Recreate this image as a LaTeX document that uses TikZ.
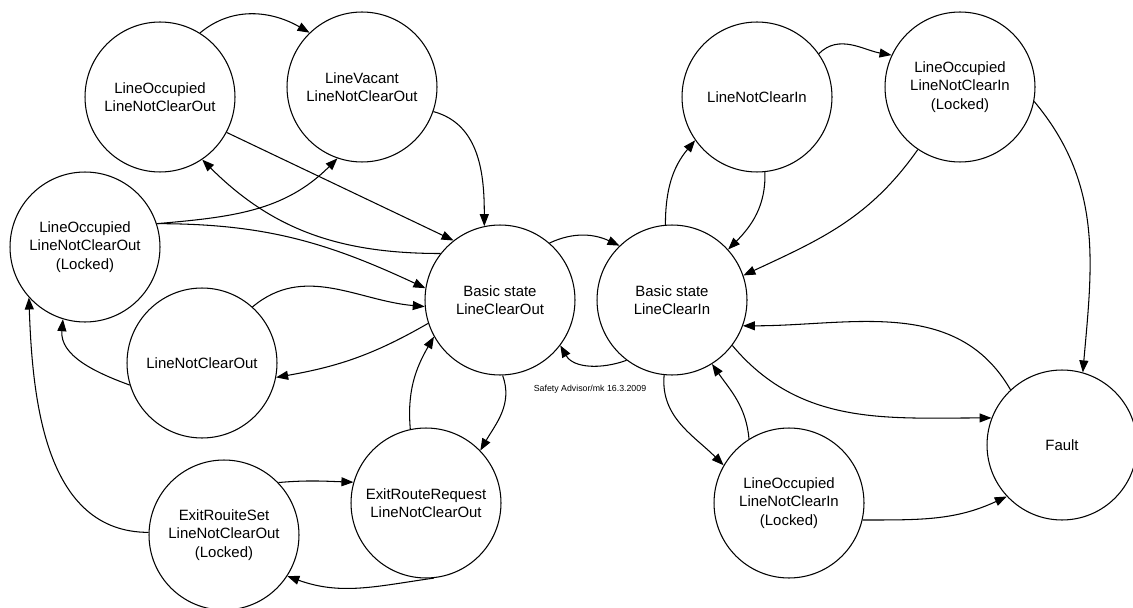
\documentclass[tikz,border=0pt]{standalone}
\usepackage{fontspec}
\setmainfont{Liberation Sans}
\usepackage{tikz}
\usetikzlibrary{arrows, arrows.meta}
\tikzset{state/.style = {draw, circle, minimum size=3cm, inner sep=0pt, align=center, font=\fontsize{8.5}{10.4}\selectfont}}
\tikzset{tr/.style = {-{Triangle[length=2.4mm, width=1.8mm]}}}

\begin{document}
\begin{tikzpicture}[x=0.02cm, y=-0.02cm, line width=0.6pt]
\useasboundingbox (0,0) rectangle (1133,608);

\draw node[state] (occout) at (160,97) {LineOccupied\\LineNotClearOut};
\draw node[state] (vacout) at (362,87) {LineVacant\\LineNotClearOut};
\draw node[state] (lockout) at (85,247) {LineOccupied\\LineNotClearOut\\(Locked)};
\draw node[state] (notout) at (202,363) {LineNotClearOut};
\draw node[state] (basout) at (500,300) {Basic state\\LineClearOut};
\draw node[state] (exitreq) at (426,503) {ExitRouteRequest\\LineNotClearOut};
\draw node[state] (exitset) at (224,535) {ExitRouiteSet\\LineNotClearOut\\(Locked)};
\draw node[state] (basin) at (672,300) {Basic state\\LineClearIn};
\draw node[state] (notin) at (757,97) {LineNotClearIn};
\draw node[state] (lockin) at (960,87) {LineOccupied\\LineNotClearIn\\(Locked)};
\draw node[state] (occin) at (789,503) {LineOccupied\\LineNotClearIn\\(Locked)};
\draw node[state] (fault) at (1062,445) {Fault};
\node[font=\fontsize{5}{6}\selectfont] (sig) at (590,389) {Safety Advisor/mk 16.3.2009};

\draw[tr] (occout.58) to[out=40, in=150] (vacout.134);
\draw[tr] (occout.-28) -- (basout.128);
\draw[tr] (basout.142) to[out=180, in=-45] (occout.-56);
\draw[tr] (vacout.-19) to[out=-15, in=90] (basout.102);
\draw[tr] (lockout.18) to[out=5, in=-135] (vacout.-109);
\draw[tr] (lockout.18) to[out=0, in=155] (basout.171);
\draw[tr] (notout.48) to[out=40, in=175] (basout.185);
\draw[tr] (basout.198) to[out=210, in=10] (notout.-11);
\draw[tr] (notout.197) to[out=160, in=-95] (lockout.-107);
\draw[tr] (exitset.178) to[out=180, in=-88] (lockout.222);
\draw[tr] (exitset.44) to[out=5, in=178] (exitreq.164);
\draw[tr] (exitreq.-84) to[out=188, in=-20] (exitset.-33);
\draw[tr] (exitreq.102) to[out=95, in=-120] (basout.209);
\draw[tr] (basout.-88) to[out=-70, in=60] (exitreq.44);
\draw[tr] (basout.49) to[out=25, in=155] (basin.134);
\draw[tr] (basin.233) to[out=200, in=-60] (basout.-37);
\draw[tr] (basin.95) to[out=90, in=-130] (notin.215);
\draw[tr] (notin.-84) to[out=-88, in=45] (basin.42);
\draw[tr] (notin.35) to[out=45, in=170] (lockin.155);
\draw[tr] (lockin.236) to[out=235, in=25] (basin.19);
\draw[tr] (lockin.-11) to[out=-50, in=85] (fault.74);
\draw[tr] (fault.133) to[out=120, in=0] (basin.-20);
\draw[tr] (basin.-37) to[out=-50, in=180] (fault.159);
\draw[tr] (occin.-13) to[out=0, in=-155] (fault.223);
\draw[tr] (basin.-96) to[out=-95, in=135] (occin.150);
\draw[tr] (occin.122) to[out=95, in=-55] (basin.-58);

\end{tikzpicture}
\end{document}
